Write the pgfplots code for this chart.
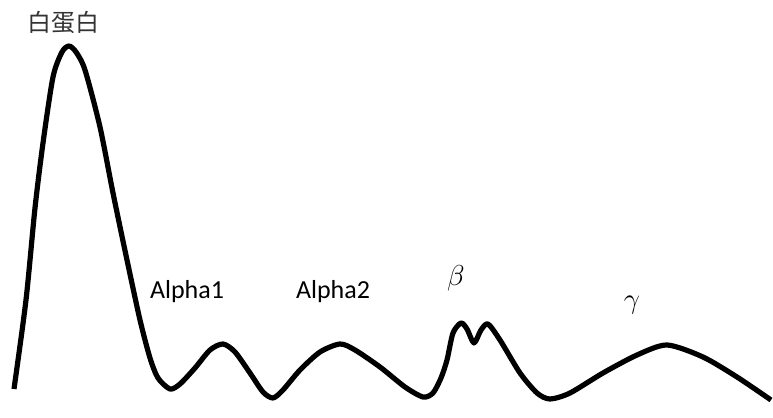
\documentclass[border=0pt]{standalone}
\usepackage{pgfplots}
\pgfplotsset{compat=1.18}
\usepackage{fontspec}
\setmainfont{Carlito}
\newfontfamily\cjk{Noto Sans CJK SC}
\begin{document}
\begin{tikzpicture}
\begin{axis}[hide axis, scale only axis, width=386.5pt, height=209pt,
  xmin=0, xmax=773, ymin=0, ymax=418, clip=false]
\addplot[black, line width=2.6pt, smooth, tension=0.45, line join=round] coordinates {
(14,29) (26,118) (35,210) (43,275) (53,341) (62,366) (69,372) (76,366) (85,348)
(100,291) (113,225) (127,158) (140,98) (150,60) (158,40) (170,29) (180,34)
(195,50) (210,68) (223,74) (235,66) (250,45) (263,26) (273,20) (283,28)
(300,48) (320,66) (340,74) (355,68) (380,51) (405,31) (423,21) (433,25)
(441,40) (447,58) (453,85) (461,95) (467,89) (474,75) (481,88) (488,94)
(500,78) (520,45) (537,25) (550,19) (570,25) (603,45) (637,63) (667,73)
(703,61) (737,41) (771,18)
};
\node[font=\cjk\fontsize{12}{14}\selectfont, text=black!80] at (axis cs:63,396) {白蛋白};
\node[font=\fontsize{13}{15}\selectfont] at (axis cs:187,126) {Alpha1};
\node[font=\fontsize{13}{15}\selectfont] at (axis cs:333,126) {Alpha2};
\node[font=\fontsize{14}{16}\selectfont] at (axis cs:456,140) {$\beta$};
\node[font=\fontsize{14}{16}\selectfont] at (axis cs:632,113) {$\gamma$};
\end{axis}
\pgfresetboundingbox
\path (0,0) rectangle (386.5pt,209pt);
\end{tikzpicture}
\end{document}
